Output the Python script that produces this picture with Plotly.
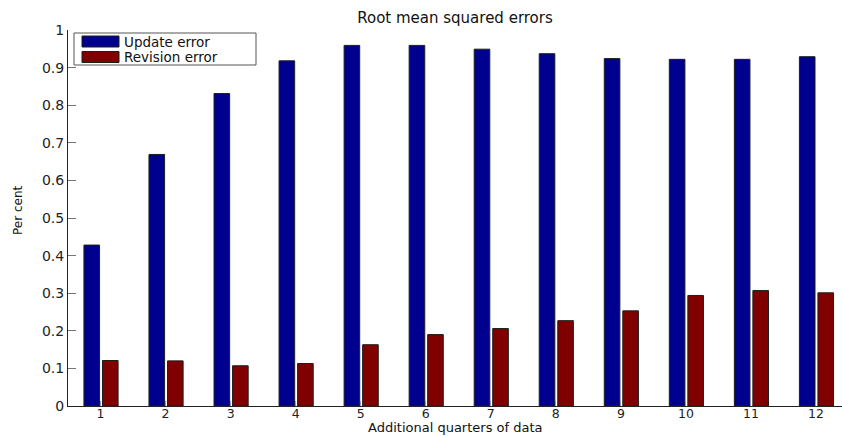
import plotly.graph_objects as go

# Root mean squared errors by number of additional quarters of data
quarters = list(range(1, 13))
update_error = [0.428, 0.669, 0.831, 0.918, 0.959, 0.959, 0.949, 0.937, 0.924, 0.922, 0.922, 0.929]
revision_error = [0.121, 0.120, 0.107, 0.113, 0.163, 0.190, 0.206, 0.227, 0.253, 0.294, 0.307, 0.301]
y_ticks = [0, 0.1, 0.2, 0.3, 0.4, 0.5, 0.6, 0.7, 0.8, 0.9, 1]
y_tick_text = ["0", "0.1", "0.2", "0.3", "0.4", "0.5", "0.6", "0.7", "0.8", "0.9", "1"]
series_names = ["Update error", "Revision error"]

BLUE = "rgb(0,0,143)"
RED = "rgb(128,0,0)"
EDGE = "#1e1e1e"
FONT = "DejaVu Sans"

W, H = 842, 436
ML, MR, MT, MB = 68, 0, 30, 30
PW, PH = W - ML - MR, H - MT - MB


def px_x(px):
    return (px - ML) / PW


def px_y(py):
    return (H - MB - py) / PH


fig = go.Figure()
fig.add_trace(go.Bar(
    x=quarters, y=update_error, name=series_names[0],
    width=0.24, offset=-0.255,
    marker=dict(color=BLUE, line=dict(color=EDGE, width=1)),
    showlegend=False,
))
fig.add_trace(go.Bar(
    x=quarters, y=revision_error, name=series_names[1],
    width=0.24, offset=0.03,
    marker=dict(color=RED, line=dict(color=EDGE, width=1)),
    showlegend=False,
))

# Legend box drawn in the upper-left corner of the axes
shapes = [
    dict(type="rect", xref="paper", yref="paper",
         x0=px_x(74), x1=px_x(256), y0=px_y(65), y1=px_y(33),
         line=dict(color="#555", width=1), fillcolor="white", layer="above"),
]
annotations = []
for i, (name, col) in enumerate(zip(series_names, [BLUE, RED])):
    top = 36 + i * 15.5
    shapes.append(dict(type="rect", xref="paper", yref="paper",
                       x0=px_x(82), x1=px_x(119), y0=px_y(top + 11), y1=px_y(top),
                       line=dict(color=EDGE, width=1), fillcolor=col, layer="above"))
    annotations.append(dict(xref="paper", yref="paper", x=px_x(123), y=px_y(top + 5.8),
                            text=name, showarrow=False, xanchor="left", yanchor="middle",
                            borderpad=0,
                            font=dict(family=FONT, size=13.5, color="#111")))

annotations.append(dict(xref="paper", yref="paper", x=px_x(18), y=px_y(210),
                        text="Per cent", textangle=-90, showarrow=False,
                        xanchor="center", yanchor="middle",
                        font=dict(family=FONT, size=12, color="#111")))
annotations.append(dict(xref="paper", yref="paper", x=px_x(455), y=px_y(427.5),
                        text="Additional quarters of data", showarrow=False,
                        xanchor="center", yanchor="middle", borderpad=0,
                        font=dict(family=FONT, size=13, color="#111")))

fig.update_layout(
    width=W, height=H,
    margin=dict(l=ML, r=MR, t=MT, b=MB),
    paper_bgcolor="white", plot_bgcolor="white",
    barmode="overlay",
    title=dict(text="Root mean squared errors", x=455 / W, xanchor="center",
               y=1 - 18 / H, yanchor="middle",
               font=dict(family=FONT, size=15, color="#111")),
    shapes=shapes, annotations=annotations,
    xaxis=dict(range=[0.5, 12.4], tickmode="array", tickvals=quarters,
               ticktext=[str(q) for q in quarters],
               ticks="inside", ticklen=5, tickcolor="#999", tickwidth=1,
               ticklabelstandoff=-4,
               showgrid=False, zeroline=False, showline=True,
               linecolor="#222", linewidth=1,
               tickfont=dict(family=FONT, size=12.5, color="#222")),
    yaxis=dict(range=[0, 1], tickmode="array", tickvals=y_ticks, ticktext=y_tick_text,
               ticks="inside", ticklen=8, tickcolor="#777", tickwidth=1,
               showgrid=False, zeroline=False, showline=True,
               linecolor="#222", linewidth=1,
               tickfont=dict(family=FONT, size=14, color="#222")),
)

fig.write_html("out.html")
